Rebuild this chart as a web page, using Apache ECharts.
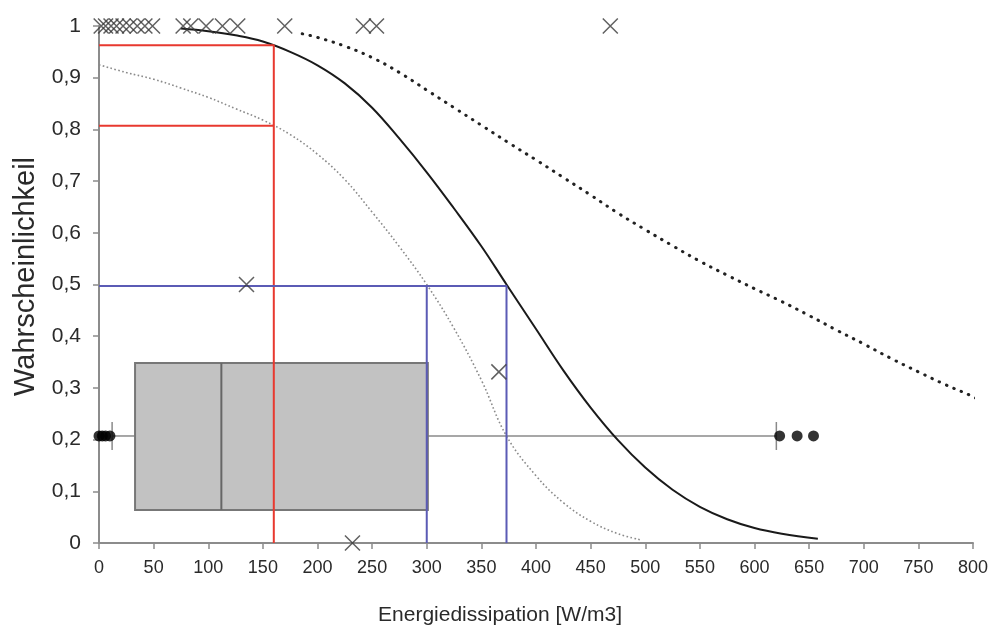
<!DOCTYPE html>
<html>
<head>
<meta charset="utf-8">
<script src="https://cdn.jsdelivr.net/npm/echarts@6/dist/echarts.min.js"></script>
<style>
  html, body { margin: 0; padding: 0; background: #fff; }
  #chart { width: 1001px; height: 635px; }
</style>
</head>
<body>
<div id="chart"></div>
<script>
// Fitted probability curve (solid) and its two confidence bounds (dotted)
const curveX = [75, 100, 125, 150, 175, 200, 225, 250, 275, 300, 325, 350, 373, 400, 425, 450, 475, 500, 525, 550, 575, 600, 625, 658];
const curveY = [0.995, 0.99, 0.982, 0.97, 0.95, 0.924, 0.889, 0.842, 0.782, 0.717, 0.647, 0.574, 0.5, 0.414, 0.334, 0.262, 0.199, 0.146, 0.103, 0.07, 0.046, 0.029, 0.018, 0.008];

const upperX = [186, 200, 225, 250, 275, 300, 325, 350, 375, 400, 425, 450, 475, 500, 525, 550, 575, 600, 625, 650, 675, 700, 725, 750, 775, 800, 815];
const upperY = [0.985, 0.978, 0.961, 0.939, 0.91, 0.876, 0.842, 0.808, 0.774, 0.741, 0.707, 0.673, 0.638, 0.606, 0.575, 0.545, 0.518, 0.492, 0.467, 0.44, 0.412, 0.385, 0.357, 0.331, 0.306, 0.283, 0.265];

const lowerX = [0, 25, 50, 75, 100, 125, 150, 175, 200, 225, 250, 275, 300, 325, 350, 373, 400, 425, 450, 475, 496];
const lowerY = [0.925, 0.91, 0.897, 0.88, 0.862, 0.84, 0.818, 0.79, 0.752, 0.703, 0.64, 0.573, 0.5, 0.415, 0.315, 0.207, 0.13, 0.078, 0.042, 0.018, 0.006];

// Observations (x = energy dissipation, y = observed outcome)
const obsX = [2, 6, 11, 16, 22, 28, 35, 42, 49, 77, 84, 98, 113, 127, 170, 242, 254, 468, 135, 366, 232];
const obsY = [1, 1, 1, 1, 1, 1, 1, 1, 1, 1, 1, 1, 1, 1, 1, 1, 1, 1, 0.5, 0.331, 0];

// Box plot of the dissipation values: [lower whisker, Q1, median, Q3, upper whisker]
const boxStats = [12, 33, 112, 301, 620];
const outliers = [0, 3, 6, 10, 623, 639, 654];

// Reading lines
const redX = 160;
const redLevels = [0.963, 0.807];
const blueLevel = 0.497;
const blueX = [300, 373];

const yTickLabels = ['0', '0,1', '0,2', '0,3', '0,4', '0,5', '0,6', '0,7', '0,8', '0,9', '1'];

function zip(xs, ys) { return xs.map((x, i) => [x, ys[i]]); }

// vertical placement of the box plot strip (in probability units)
const BOX_MID = 0.207, BOX_TOP = 0.348, BOX_BOTTOM = 0.064;

const FONT = '"Liberation Sans", Arial, sans-serif';
const RED = '#e8392f';
const BLUE = '#5b5bb5';

const chart = echarts.init(document.getElementById('chart'), null, { renderer: 'canvas' });

const crossPath = 'path://M0,0 L20,20 M20,0 L0,20';

const series = [
  {
    type: 'custom',
    name: 'box',
    data: [boxStats],
    encode: { x: [0, 4] },
    z: 1,
    renderItem: function (params, api) {
      const lo = api.value(0), q1 = api.value(1), med = api.value(2), q3 = api.value(3), hi = api.value(4);
      const yMid = api.coord([0, BOX_MID])[1];
      const yTop = api.coord([0, BOX_TOP])[1];
      const yBot = api.coord([0, BOX_BOTTOM])[1];
      const xLo = api.coord([lo, 0])[0], xQ1 = api.coord([q1, 0])[0];
      const xMed = api.coord([med, 0])[0], xQ3 = api.coord([q3, 0])[0];
      const xHi = api.coord([hi, 0])[0];
      const capH = 14;
      const wStyle = { stroke: '#8a8a8a', lineWidth: 1.5 };
      return {
        type: 'group',
        children: [
          { type: 'line', shape: { x1: xLo, y1: yMid, x2: xQ1, y2: yMid }, style: wStyle },
          { type: 'line', shape: { x1: xQ3, y1: yMid, x2: xHi, y2: yMid }, style: wStyle },
          { type: 'line', shape: { x1: xLo, y1: yMid - capH, x2: xLo, y2: yMid + capH }, style: wStyle },
          { type: 'line', shape: { x1: xHi, y1: yMid - capH, x2: xHi, y2: yMid + capH }, style: wStyle },
          { type: 'rect', shape: { x: xQ1, y: yTop, width: xQ3 - xQ1, height: yBot - yTop },
            style: { fill: '#c2c2c2', stroke: '#777', lineWidth: 2 } },
          { type: 'line', shape: { x1: xMed, y1: yTop, x2: xMed, y2: yBot },
            style: { stroke: '#666', lineWidth: 2 } }
        ]
      };
    }
  },
  {
    type: 'scatter',
    name: 'outliers',
    data: outliers.map(v => [v, BOX_MID]),
    symbol: 'circle',
    symbolSize: 11,
    itemStyle: { color: '#000' },
    z: 3
  },
  {
    type: 'line',
    name: 'lower',
    data: zip(lowerX, lowerY),
    smooth: 0.4,
    showSymbol: false,
    lineStyle: { color: '#8a8a8a', width: 1.6, type: [1.6, 2.4] },
    z: 2
  },
  {
    type: 'line',
    name: 'upper',
    data: zip(upperX, upperY),
    smooth: 0.4,
    clip: false,
    showSymbol: false,
    lineStyle: { color: '#222', width: 3, type: [0.5, 7.5], cap: 'round' },
    z: 2
  },
  {
    type: 'line',
    name: 'curve',
    data: zip(curveX, curveY),
    smooth: 0.4,
    showSymbol: false,
    lineStyle: { color: '#1a1a1a', width: 2 },
    z: 2
  },
  // red reading lines
  {
    type: 'line', data: [[redX, 0], [redX, redLevels[0]], [0, redLevels[0]]],
    showSymbol: false, lineStyle: { color: RED, width: 2 }, z: 4
  },
  {
    type: 'line', data: [[0, redLevels[1]], [redX, redLevels[1]]],
    showSymbol: false, lineStyle: { color: RED, width: 2 }, z: 4
  },
  // blue reading lines
  {
    type: 'line', data: [[0, blueLevel], [blueX[1], blueLevel], [blueX[1], 0]],
    showSymbol: false, lineStyle: { color: BLUE, width: 2 }, z: 4
  },
  {
    type: 'line', data: [[blueX[0], blueLevel], [blueX[0], 0]],
    showSymbol: false, lineStyle: { color: BLUE, width: 2 }, z: 4
  },
  {
    type: 'scatter',
    name: 'observations',
    data: zip(obsX, obsY),
    symbol: crossPath,
    symbolSize: 15,
    clip: false,
    itemStyle: { color: 'transparent', borderColor: '#3a3a3a', borderWidth: 1.5 },
    z: 5
  }
];

chart.setOption({
  animation: false,
  backgroundColor: '#fff',
  grid: { left: 99, right: 28, top: 26, bottom: 92, containLabel: false },
  xAxis: {
    type: 'value',
    min: 0, max: 800, interval: 50,
    name: 'Energiedissipation [W/m3]',
    nameLocation: 'middle',
    nameGap: 62,
    nameTextStyle: { fontFamily: FONT, fontSize: 21, color: '#2a2a2a', padding: [0, 72, 0, 0] },
    axisLine: { lineStyle: { color: '#8c8c8c', width: 2 } },
    axisTick: { show: true, length: 6, inside: false, lineStyle: { color: '#8c8c8c', width: 1.5 } },
    axisLabel: { fontFamily: FONT, fontSize: 18, color: '#2a2a2a', margin: 16 },
    splitLine: { show: false }
  },
  yAxis: {
    type: 'value',
    min: 0, max: 1, interval: 0.1,
    name: 'Wahrscheinlichkeil',
    nameLocation: 'middle',
    nameGap: 58,
    nameRotate: 90,
    nameTextStyle: { fontFamily: FONT, fontSize: 29, color: '#2a2a2a', padding: [0, 0, 0, 16] },
    axisLine: { show: true, lineStyle: { color: '#8c8c8c', width: 2 } },
    axisTick: { show: true, length: 6, lineStyle: { color: '#8c8c8c', width: 1.5 } },
    axisLabel: {
      fontFamily: FONT, fontSize: 21, color: '#2a2a2a', margin: 18,
      formatter: function (v) { return yTickLabels[Math.round(v * 10)]; }
    },
    splitLine: { show: false }
  },
  series: series
});
</script>
</body>
</html>
